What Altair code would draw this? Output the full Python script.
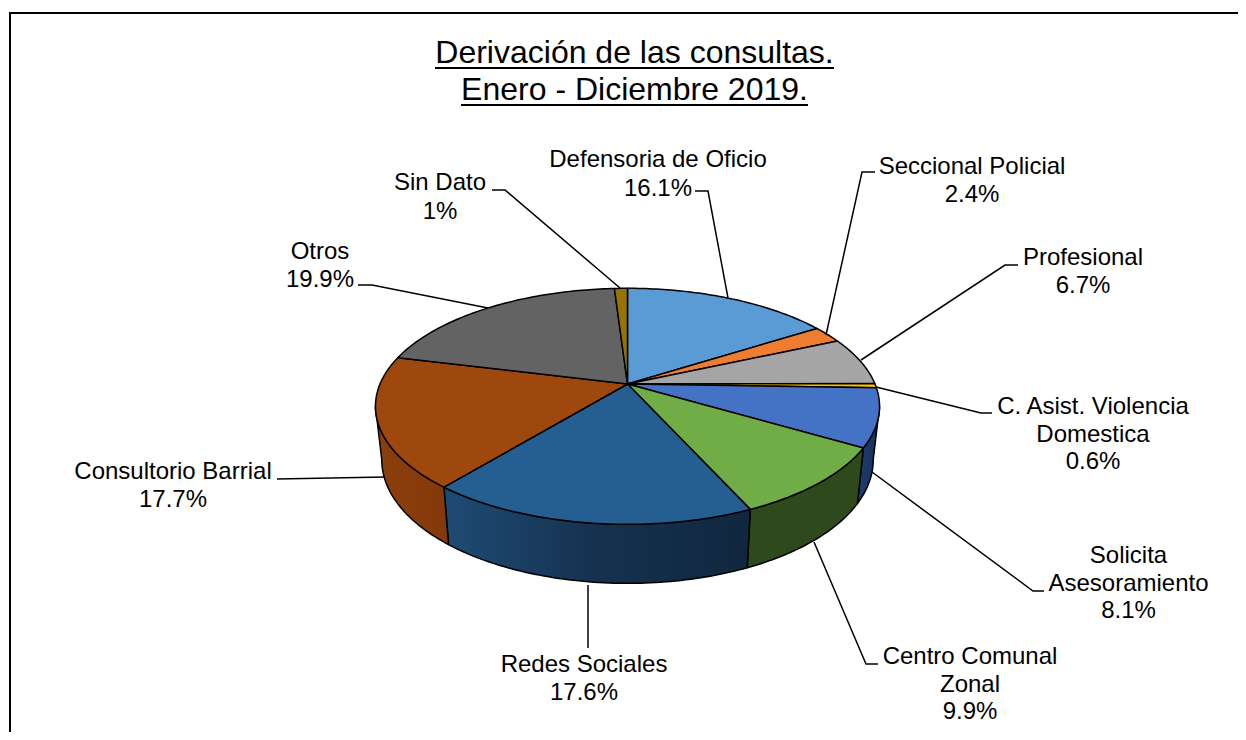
import math
import altair as alt

# ---- data ----
CATEGORIES = ["Defensoria de Oficio", "Seccional Policial", "Profesional",
              "C. Asist. Violencia Domestica", "Solicita Asesoramiento",
              "Centro Comunal Zonal", "Redes Sociales", "Consultorio Barrial",
              "Otros", "Sin Dato"]
VALUES = [16.1, 2.4, 6.7, 0.6, 8.1, 9.9, 17.6, 17.7, 19.9, 1.0]
VALUE_LABELS = ["16.1%", "2.4%", "6.7%", "0.6%", "8.1%", "9.9%", "17.6%", "17.7%", "19.9%", "1%"]
TITLE_LINES = ["Derivación de las consultas.", "Enero - Diciembre 2019."]

# ---- styles ----
TOP_COLORS = ["#5B9BD5", "#ED7D31", "#A5A5A5", "#FFC000", "#4472C4",
              "#70AD47", "#255E91", "#9E480E", "#636363", "#997300"]
WALL_STOPS = {
    "Solicita Asesoramiento": ["#1E3C70", "#16305A"],
    "Centro Comunal Zonal": ["#2E4A1C", "#2E4A1C"],
    "Redes Sociales": ["#1E4B74", "#16314F", "#10273E"],
    "Consultorio Barrial": ["#8A3F0C", "#85390A"],
}
FONT = "Liberation Sans"

# ---- layout (page pixels) ----
OX, OY = 8, 8
W, H = 1230, 724
CX, CY = 627.5, 384.0
K, A, P = 247.5, 113.8, 0.189
XS, D0, D1 = 0.975, 52.0, 7.0
VIEW_WARP = 1.0
LABEL_SIZE, TITLE_SIZE = 24, 32
TITLE_X = 634.5
TITLE_BASE = [63, 100]
UNDERLINES = [[(435, 68), (834, 68)], [(461, 105), (808, 105)]]
FRAME = [(10, 740), (10, 13), (1246, 13)]
LABEL_LINES = [
    (658, [166.5, 195.5], ["Defensoria de Oficio", 0]),
    (972, [173.5, 201.5], ["Seccional Policial", 1]),
    (1083, [264.5, 292.5], ["Profesional", 2]),
    (1093, [413.5, 441.5, 469], ["C. Asist. Violencia", "Domestica", 3]),
    (1128.5, [562.5, 590.5, 618], ["Solicita", "Asesoramiento", 4]),
    (970, [664, 691.5, 719], ["Centro Comunal", "Zonal", 5]),
    (584, [671.5, 699.5], ["Redes Sociales", 6]),
    (173, [478.5, 506.5], ["Consultorio Barrial", 7]),
    (320, [258.5, 286.5], ["Otros", 8]),
    (440, [189.5, 218.5], ["Sin Dato", 9]),
]
LEADERS = [
    [(728, 298), (708, 191), (695, 191)],
    [(826, 335), (862, 172), (875, 172)],
    [(861, 360), (1005, 265), (1018, 265)],
    [(876, 387), (981, 413), (992, 413)],
    [(872, 472), (1033, 591), (1044, 591)],
    [(814, 542), (866, 664), (878, 664)],
    [(588, 585), (588, 648)],
    [(385, 477), (277, 479)],
    [(488, 308), (372, 285), (358, 285)],
    [(620, 288), (505, 190), (492, 190)],
]


def top_point(deg):
    t = math.radians(deg)
    u, v = math.sin(t), -math.cos(t)
    w = 1 - P * v
    return (CX + K * u / w, CY + A * v / w)


def bottom_point(deg):
    x, y = top_point(deg)
    v = -math.cos(math.radians(deg))
    return (CX + XS * (x - CX), y + D0 + D1 * v)


def arc(a0, a1, fn):
    n = max(2, int(abs(a1 - a0)) + 2)
    return [fn(a0 + (a1 - a0) * i / (n - 1)) for i in range(n)]


def local(points):
    return [[px - OX, py - OY] for px, py in points]


def feature(points, kind="Polygon"):
    pts = local(points)
    if kind == "Polygon":
        pts = pts + [pts[0]]
        coords = [pts]
    else:
        coords = pts
    return {"type": "Feature", "properties": {}, "geometry": {"type": kind, "coordinates": coords}}


PROJ = alt.Projection(type="identity", scale=1, translate=[0, 0])


def shape(points, fill, stroke="#000000", sw=1.5):
    return (alt.Chart(alt.Data(values=[feature(points)]))
            .mark_geoshape(fill=fill, stroke=stroke, strokeWidth=sw, strokeJoin="round")
            .project(**PROJ.to_dict()))


def lines(features, sw=1.5):
    return (alt.Chart(alt.Data(values=features))
            .mark_geoshape(filled=False, stroke="#000000", strokeWidth=sw)
            .project(**PROJ.to_dict()))


def gradient(colors):
    n = len(colors) - 1
    return alt.Gradient(gradient="linear", x1=0, x2=1, y1=0, y2=0,
                        stops=[alt.GradientStop(offset=i / n, color=c) for i, c in enumerate(colors)])


# slice angles follow the values, clockwise from the top, with the small
# correction the reference's 3D view shows
edges = [0.0]
for val in VALUES:
    edges.append(edges[-1] + val * 3.6)
edges = [e - VIEW_WARP * (1 - math.cos(math.radians(e))) for e in edges]

layers = []

# front walls, only between the two silhouette tangents
T0 = 180 - math.degrees(math.acos(P))
T1 = 360 - T0
for i, cat in enumerate(CATEGORIES):
    if cat not in WALL_STOPS:
        continue
    a0, a1 = max(edges[i], T0), min(edges[i + 1], T1)
    pts = arc(a0, a1, top_point) + arc(a1, a0, bottom_point)
    layers.append(shape(pts, gradient(WALL_STOPS[cat])))

# top face
for i, col in enumerate(TOP_COLORS):
    pts = [(CX, CY)] + arc(edges[i], edges[i + 1], top_point)
    layers.append(shape(pts, col))

# leaders, frame, underlines
layers.append(lines([feature(l, "LineString") for l in LEADERS], 1.5))
layers.append(lines([feature(FRAME, "LineString")], 2))
layers.append(lines([feature(u, "LineString") for u in UNDERLINES], 2))

# labels
rows = []
for cx, bases, parts in LABEL_LINES:
    texts = parts[:-1] + [VALUE_LABELS[parts[-1]]]
    for t, b in zip(texts, bases):
        rows.append({"t": t, "x": cx - OX, "y": b - OY})
layers.append(alt.Chart(alt.Data(values=rows)).mark_text(
    font=FONT, fontSize=LABEL_SIZE, color="#000000", align="center", baseline="alphabetic"
).encode(x=alt.X("x:Q", scale=None), y=alt.Y("y:Q", scale=None), text="t:N"))

title_rows = [{"t": t, "x": TITLE_X - OX, "y": b - OY} for t, b in zip(TITLE_LINES, TITLE_BASE)]
layers.append(alt.Chart(alt.Data(values=title_rows)).mark_text(
    font=FONT, fontSize=TITLE_SIZE, color="#000000", align="center", baseline="alphabetic"
).encode(x=alt.X("x:Q", scale=None), y=alt.Y("y:Q", scale=None), text="t:N"))

chart = alt.layer(*layers).properties(
    width=W, height=H, padding=0, background="#FFFFFF"
).configure_view(stroke=None)

chart.save("out.html", embed_options={"renderer": "svg", "actions": False})
